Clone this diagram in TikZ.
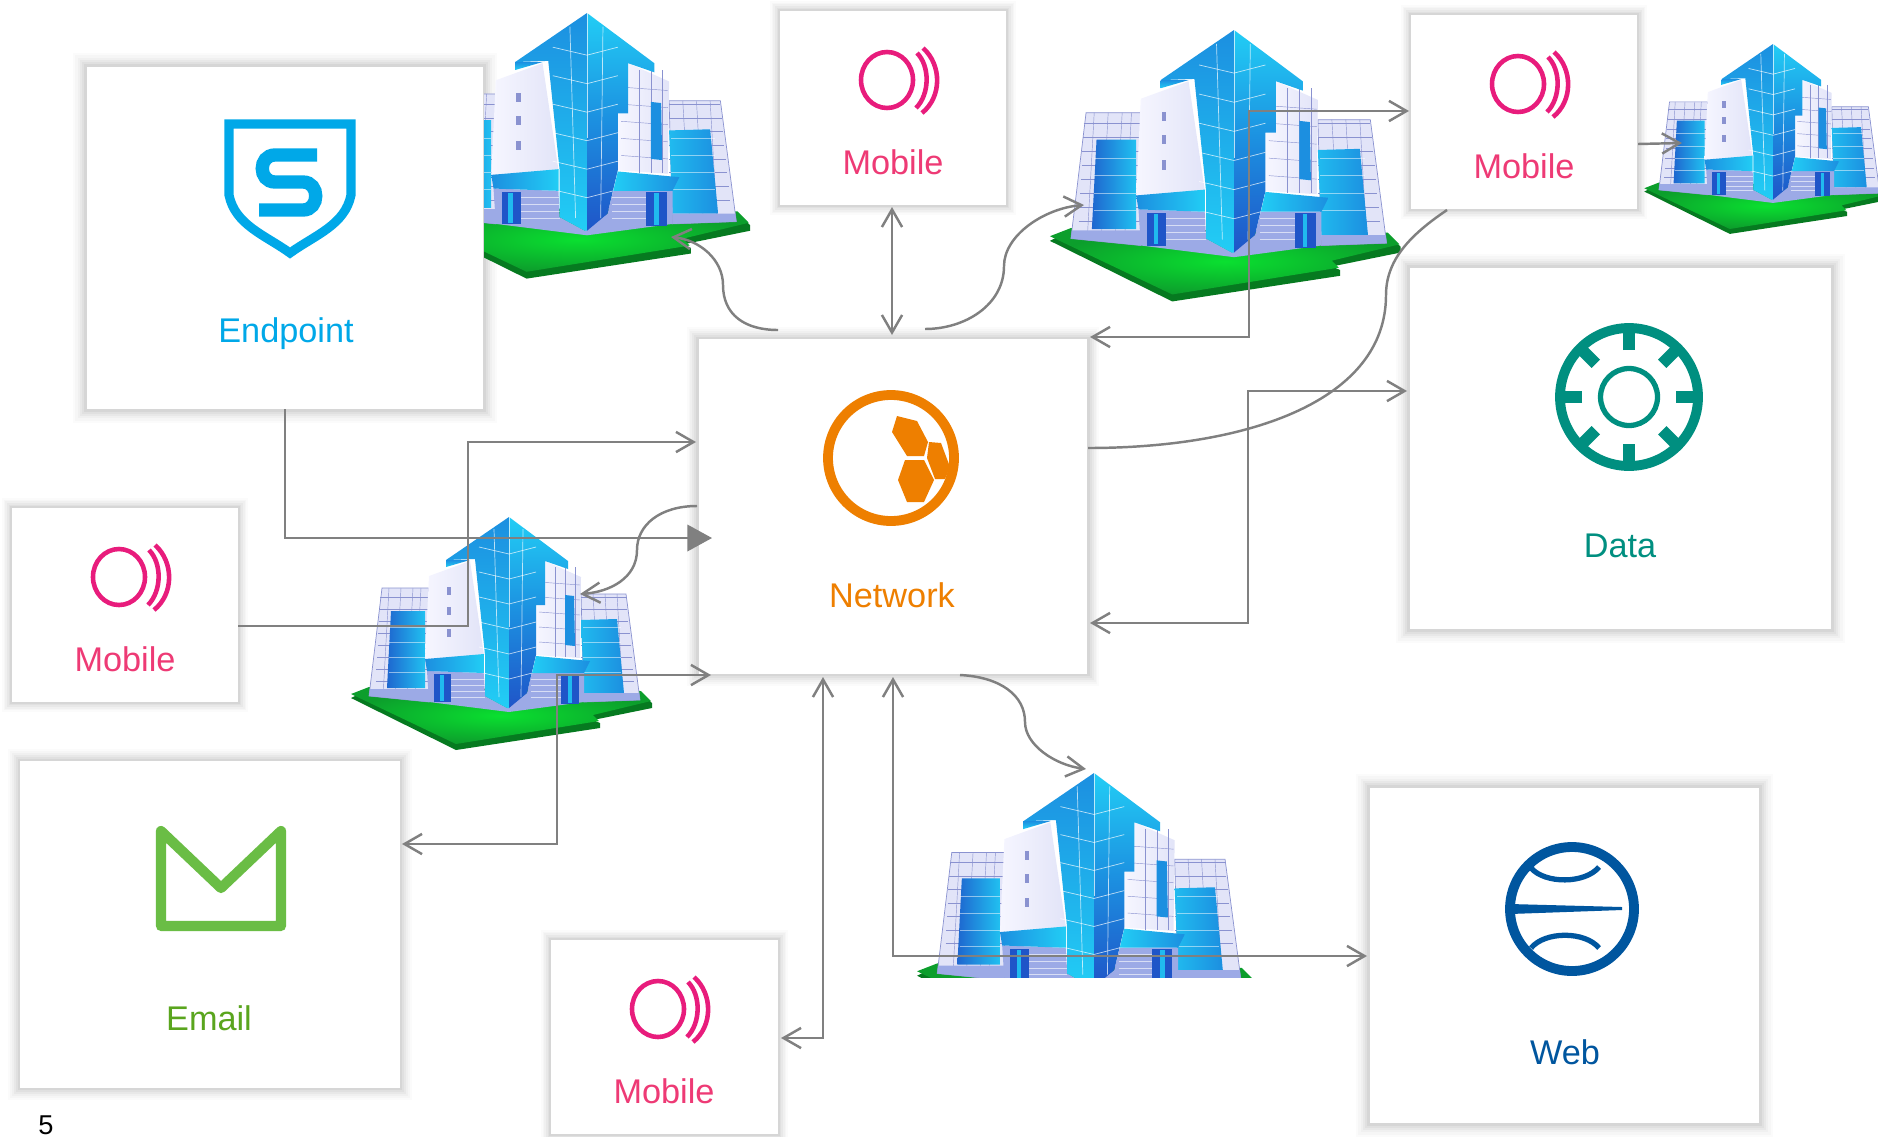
\documentclass[tikz,border=0pt]{standalone}
\usepackage{fontspec}
\setmainfont{Liberation Sans}
\usetikzlibrary{arrows.meta}
\definecolor{linkgray}{HTML}{808080}
\definecolor{endpointblue}{HTML}{00A8E8}
\definecolor{mobilepink}{HTML}{E81C7C}
\definecolor{mobiletext}{HTML}{EE3A75}
\definecolor{networkorange}{HTML}{EE7F00}
\definecolor{datateal}{HTML}{008F80}
\definecolor{emailicon}{HTML}{6ABD45}
\definecolor{emailtext}{HTML}{5AA51E}
\definecolor{webblue}{HTML}{00569F}
\definecolor{cyanA}{HTML}{22CDF5}
\definecolor{blueA}{HTML}{1C8FE0}
\definecolor{blueB}{HTML}{1F55C8}
\definecolor{paleA}{HTML}{F6F6FF}
\definecolor{paleB}{HTML}{E2E4F8}
\definecolor{lavA}{HTML}{9CAAE6}
\definecolor{edgeA}{HTML}{8A92D0}
\definecolor{greenA}{HTML}{0AE030}
\definecolor{greenB}{HTML}{0C9E2C}
\definecolor{greenC}{HTML}{067A20}
\tikzset{
	panel/.style={fill=white, inner sep=0pt,
		preaction={draw=black!1.5, line width=.56cm*#1},
		preaction={draw=black!3.5, line width=.47cm*#1},
		preaction={draw=black!6, line width=.38cm*#1},
		preaction={draw=black!9, line width=.29cm*#1},
		preaction={draw=black!12, line width=.2cm*#1},
		preaction={draw=black!16, line width=.11cm*#1}},
	panel/.default=1,
	tag/.style={anchor=base, font=\fontsize{19.5}{23}\selectfont},
	link/.style={draw=linkgray, line width=1.4pt, >={Straight Barb[length=10pt,width=11.5pt,line width=1.4pt]}},
	mobilering/.pic={
		\draw[mobilepink, line width=2.6pt] (0,0) circle [x radius=26, y radius=28];
		\draw[mobilepink, line width=2.6pt] (30,-27) .. controls (43,-14) and (43,14) .. (29,28);
		\draw[mobilepink, line width=2.6pt] (36,-32) .. controls (55,-15) and (55,17) .. (35,33);
	},
	building/.pic={
		% ground
		\fill[greenC] (-158,181) -- (-140,172) -- (132,176) -- (143,186) -- (143,191) -- (84,203) -- (91,206) -- (91,211) -- (-53,233) -- cycle;
		\shade[inner color=greenA, outer color=greenB] (-158,177) -- (-140,170) -- (132,174) -- (142,184) -- (84,198) -- (90,204) -- (-53,227) -- cycle;
		% wings
		\filldraw[fill=paleB, draw=edgeA, line width=.4pt] (-127,71) -- (-80,71) -- (-80,185) -- (-140,179) -- cycle;
		\filldraw[fill=paleB, draw=edgeA, line width=.4pt] (72,77) -- (117,77) -- (131,183) -- (75,185) -- cycle;
		\foreach \k in {80,92,104,116,128,140,152,164} {
			\draw[edgeA, line width=.25pt] (-129-\k/20+4,\k) -- (-80,\k);
			\draw[edgeA, line width=.25pt] (72,\k) -- (117+\k/10-8,\k);
		}
		\foreach \k in {-120,-108,-96,-88} {
			\draw[edgeA, line width=.25pt] (\k,71) -- (\k-6,180);
		}
		\foreach \k in {84,96,108} {
			\draw[edgeA, line width=.25pt] (\k,77) -- (\k+6,182);
		}
		\shade[left color=blueB!70!blueA, right color=cyanA!80!blueA] (-118,94) -- (-84,94) -- (-84,171) -- (-122,171) -- cycle;
		\shade[left color=cyanA!70!blueA, right color=blueA] (72,103) -- (108,102) -- (115,176) -- (75,176) -- cycle;
		\foreach \k in {110,125,140,155} {
			\draw[white, line width=.25pt, opacity=.5] (-120,\k) -- (-84,\k);
			\draw[white, line width=.25pt, opacity=.5] (74,\k) -- (112,\k);
		}
		\fill[lavA] (-139,172) -- (-80,172) -- (-80,185) -- (-140,179) -- cycle;
		\fill[lavA] (75,176) -- (130,176) -- (131,183) -- (75,185) -- cycle;
		% lower floor
		\fill[lavA] (-82,154) -- (-25,156) -- (-24,179) -- (-2,191) -- (18,176) -- (23,156) -- (75,156) -- (75,185) -- (0,195) -- (-80,185) -- cycle;
		\foreach \k in {162,168,174,180} {
			\draw[white, line width=.3pt, opacity=.6] (-58,\k) -- (-24,\k);
			\draw[white, line width=.3pt, opacity=.6] (22,\k) -- (52,\k);
		}
		\fill[blueB] (-75,157) rectangle (-58,185);
		\fill[blueB] (52,157) rectangle (70,187);
		\fill[cyanA!70!blueA] (-69,158) rectangle (-65,184);
		\fill[cyanA!70!blueA] (59,158) rectangle (63,186);
		% white blocks
		\shade[left color=paleA, right color=paleB] (-80,59) -- (-39,44) -- (-25,138) -- (-84,142) -- cycle;
		\shade[left color=paleA, right color=paleB] (36,44) -- (72,60) -- (71,141) -- (27,138) -- (27,88) -- (36,88) -- cycle;
		\foreach \k in {65,80,95,110,125} {
			\draw[edgeA, line width=.25pt] (30,\k) -- (71,\k+3);
		}
		\foreach \k in {46,56,66} {
			\draw[edgeA, line width=.25pt] (\k,50) -- (\k,140);
		}
		\fill[blueA] (56,78) -- (65,79) -- (66,129) -- (56,128) -- cycle;
		\fill[edgeA] (-62,70) rectangle (-58,78);
		\fill[edgeA] (-62,90) rectangle (-58,98);
		\fill[edgeA] (-62,112) rectangle (-58,120);
		% tower
		\shade[top color=blueA, bottom color=cyanA] (-63,43) -- (-39,43) -- (-63,50) -- cycle;
		\shade[top color=blueA, bottom color=cyanA] (0,0) -- (-63,43) -- (-34,42) -- (-24,138) -- (-24,179) -- (-2,191) -- (0,191) -- cycle;
		\shade[top color=cyanA, bottom color=blueB, middle color=blueA] (0,0) -- (59,44) -- (59,52) -- (36,44) -- (36,88) -- (27,88) -- (27,138) -- (18,176) -- (0,191) -- cycle;
		\foreach \k in {30,55,80,105,130,155} {
			\draw[white, line width=.4pt, opacity=.7] (-30,\k) -- (0,\k+7) -- (27,\k);
		}
		\draw[white, line width=.4pt, opacity=.7] (0,0) -- (0,110);
		\draw[white, line width=.4pt, opacity=.7] (-15,12) -- (-10,180);
		\draw[white, line width=.4pt, opacity=.7] (14,12) -- (12,180);
		% canopies
		\shade[left color=blueA, right color=cyanA] (-84,142) -- (-25,137) -- (-25,156) -- (-82,154) -- cycle;
		\shade[left color=cyanA, right color=blueA] (27,139) -- (81,144) -- (75,156) -- (23,156) -- cycle;
	}
}
\begin{document}
\begin{tikzpicture}[x=0.02cm, y=-0.02cm]
	\useasboundingbox (0,0) rectangle (1878,1136);
	% Add the panels
	\node[panel, minimum width=7.92cm, minimum height=6.84cm] (endpoint) at (285,238) {};
	\node[panel=.7, minimum width=4.52cm, minimum height=3.88cm] (mobT) at (893,108) {};
	\node[panel=.7, minimum width=4.52cm, minimum height=3.88cm] (mobR) at (1524,112) {};
	\node[panel=.7, minimum width=4.52cm, minimum height=3.88cm] (mobL) at (125,605) {};
	\node[panel=.7, minimum width=4.54cm, minimum height=3.88cm] (mobB) at (664.5,1037) {};
	\node[panel, minimum width=8.42cm, minimum height=7.22cm] (data) at (1620.5,448.5) {};
	\node[panel=.85, minimum width=7.78cm, minimum height=6.7cm] (network) at (893,506.5) {};
	\node[panel=.85, minimum width=7.6cm, minimum height=6.54cm] (email) at (210,924.5) {};
	\node[panel, minimum width=7.78cm, minimum height=6.7cm] (web) at (1564.5,955.5) {};

	% Add the buildings
	\begin{scope}
		\clip (484,0) rectangle (800,300);
		\pic[scale=1.14] (bldgA) at (587,13) {building};
	\end{scope}
	\pic[scale=1.165] (bldgB) at (1234,30) {building};
	\pic (bldgC) at (509,517) {building};
	\pic[scale=.815] (bldgD) at (1773,44) {building};
	\begin{scope}
		\clip (900,760) rectangle (1300,977);
		\pic[scale=1.12] (bldgE) at (1094,773) {building};
	\end{scope}

	% Add the labels
	\node[tag, text=endpointblue] (endpointtag) at (286,342) {Endpoint};
	\node[tag, text=mobiletext] (mobTtag) at (893,174) {Mobile};
	\node[tag, text=mobiletext] (mobRtag) at (1524,178) {Mobile};
	\node[tag, text=mobiletext] (mobLtag) at (125,671) {Mobile};
	\node[tag, text=mobiletext] (mobBtag) at (664,1103) {Mobile};
	\node[tag, text=networkorange] (networktag) at (892,607) {Network};
	\node[tag, text=datateal] (datatag) at (1620,557) {Data};
	\node[tag, text=emailtext] (emailtag) at (209,1030) {Email};
	\node[tag, text=webblue] (webtag) at (1565,1064) {Web};
	\node[anchor=base, inner sep=0pt, font=\fontsize{15.5}{18}\selectfont] (pagenum) at (46,1134) {5};

	% Add the icons
	\pic at (887,80) {mobilering};
	\pic at (1518,84) {mobilering};
	\pic at (119,577) {mobilering};
	\pic at (658,1009) {mobilering};
	% shield
	\draw[endpointblue, line width=5.2pt, line join=miter] (229,124) -- (351,124) -- (351,195) .. controls (345,225) and (315,235) .. (290,253) .. controls (265,235) and (235,225) .. (229,195) -- cycle;
	\draw[endpointblue, line width=7.6pt] (317,155) -- (275,155) .. controls (258,155) and (258,182) .. (275,182) -- (303,182) .. controls (320,182) and (320,210) .. (303,210) -- (259,210);
	% hexagons
	\draw[networkorange, line width=5.6pt] (891,458) circle [radius=63];
	\fill[networkorange] (897,416) -- (917,421) -- (928,442) -- (924,456) -- (907,456) -- (892,432) -- cycle;
	\fill[networkorange] (929,442) -- (941,443) -- (950,467) -- (945,479) -- (935,479) -- (927,458) -- cycle;
	\fill[networkorange] (905,460) -- (924,460) -- (934,480) -- (924,502) -- (907,502) -- (898,480) -- cycle;
	% gear
	\draw[datateal, line width=5.6pt] (1629,397) circle [radius=69];
	\draw[datateal, line width=3pt] (1629,397) circle [radius=28.5];
	\foreach \a in {0,45,...,315} {
		\draw[datateal, line width=6.8pt] ([shift={(\a:47)}]1629,397) -- ([shift={(\a:66)}]1629,397);
	}
	% envelope
	\draw[emailicon, line width=5.8pt, line join=round] (161,831) -- (161,926) -- (281,926) -- (281,831) -- (221,888) -- cycle;
	% globe
	\draw[webblue, line width=5.6pt] (1572,909) circle [radius=62];
	\draw[webblue, line width=3pt] (1531,868) .. controls (1545,884) and (1585,884) .. (1599,867);
	\draw[webblue, line width=3pt] (1531,948) .. controls (1545,931) and (1585,931) .. (1599,948);
	\fill[webblue] (1510,904) -- (1622,907) -- (1622,910) -- (1510,914) -- cycle;

	% Add the connector ends
	\coordinate (netTri) at (712,538);
	\coordinate (mobLout) at (238,626);
	\coordinate (turnA) at (468,442);
	\coordinate (netWa) at (696,442);
	\coordinate (netWb) at (697,506);
	\coordinate (bldgCin) at (580,594);
	\coordinate (emailIn) at (402,844);
	\coordinate (turnB) at (557,675);
	\coordinate (netWc) at (711,675);
	\coordinate (mobBin) at (781,1038);
	\coordinate (netSa) at (823,677);
	\coordinate (netSb) at (893,677);
	\coordinate (webIn) at (1367,956);
	\coordinate (netSc) at (960,675);
	\coordinate (bldgEin) at (1086,769);
	\coordinate (netNa) at (778,330);
	\coordinate (bldgAin) at (671,237);
	\coordinate (mobTout) at (892,207);
	\coordinate (netNb) at (892,335);
	\coordinate (netNc) at (925,329);
	\coordinate (bldgBin) at (1084,205);
	\coordinate (netEa) at (1090,337);
	\coordinate (turnC) at (1249,111);
	\coordinate (mobRin) at (1409,111);
	\coordinate (mobRout) at (1638,144);
	\coordinate (bldgDin) at (1682,143);
	\coordinate (netEb) at (1088,448);
	\coordinate (mobRs) at (1447,210);
	\coordinate (netEc) at (1090,623);
	\coordinate (turnD) at (1248,391);
	\coordinate (dataIn) at (1407,391);

	\draw[link, -{Triangle[length=14pt,width=15pt]}] (endpoint.south) |- (netTri);
	\draw[link, ->] (mobLout) -| (turnA) -- (netWa);
	\draw[link, ->] (netWb) .. controls (660,506) and (637,525) .. (637,550) .. controls (637,578) and (610,592) .. (bldgCin);
	\draw[link, <->] (emailIn) -| (turnB) -- (netWc);
	\draw[link, <->] (mobBin) -| (netSa);
	\draw[link, <->] (netSb) |- (webIn);
	\draw[link, ->] (netSc) .. controls (1000,677) and (1025,695) .. (1025,722) .. controls (1025,745) and (1055,765) .. (bldgEin);
	\draw[link, ->] (netNa) .. controls (745,330) and (723,315) .. (723,285) .. controls (723,260) and (700,240) .. (bldgAin);
	\draw[link, <->] (mobTout) -- (netNb);
	\draw[link, ->] (netNc) .. controls (965,329) and (1004,305) .. (1004,266) .. controls (1004,235) and (1045,208) .. (bldgBin);
	\draw[link, <->] (netEa) -| (turnC) -- (mobRin);
	\draw[link, ->] (mobRout) -- (bldgDin);
	\draw[link] (netEb) .. controls (1250,448) and (1386,400) .. (1386,295) .. controls (1386,260) and (1410,235) .. (mobRs);
	\draw[link, <->] (netEc) -| (turnD) -- (dataIn);
\end{tikzpicture}
\end{document}
